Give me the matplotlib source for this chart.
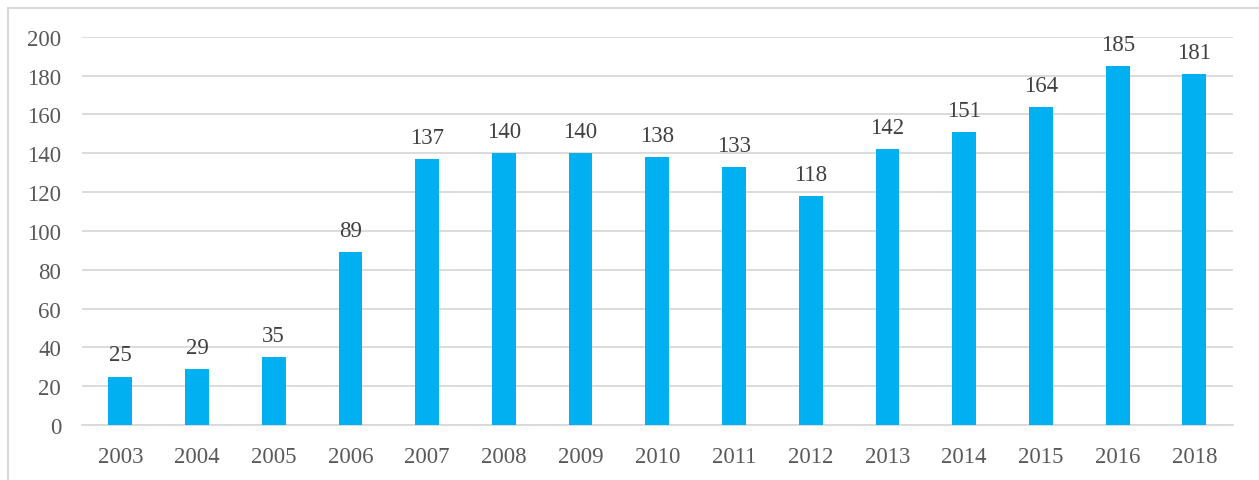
import matplotlib.pyplot as plt
from matplotlib.patches import Rectangle

years = ['2003', '2004', '2005', '2006', '2007', '2008', '2009', '2010',
         '2011', '2012', '2013', '2014', '2015', '2016', '2018']
counts = [25, 29, 35, 89, 137, 140, 140, 138, 133, 118, 142, 151, 164, 185, 181]

plt.rcParams['font.family'] = ['Liberation Serif', 'DejaVu Serif']

fig = plt.figure(figsize=(12.59, 4.81), dpi=100)
ax = fig.add_axes([0.0651, 0.1143, 0.914, 0.807])

# chart frame, cut by the image edges on right and bottom
fig.patches.append(Rectangle((8 / 1259, -0.1), 1.2, 1 - 9 / 481 + 0.1,
                             transform=fig.transFigure, fill=False,
                             edgecolor='#D9D9D9', linewidth=1.5))

x = range(len(years))
bars = ax.bar(x, counts, width=0.31, color='#00B0F0', zorder=3)
ax.bar_label(bars, labels=[str(c) for c in counts], padding=8,
             fontsize=16.5, color='#404040')

ax.set_xlim(-0.5, len(years) - 0.5)
ax.set_ylim(0, 200)
ax.set_yticks(range(0, 201, 20))
ax.set_xticks(list(x))
ax.set_xticklabels(years)
ax.grid(True, axis='y', color='#D9D9D9', linewidth=1.3, zorder=0)
ax.tick_params(axis='both', length=0, labelsize=16.5, labelcolor='#595959')
ax.tick_params(axis='x', pad=15)
ax.tick_params(axis='y', pad=15)
for side in ['top', 'right', 'left']:
    ax.spines[side].set_visible(False)
ax.spines['bottom'].set_color('#D9D9D9')
ax.spines['bottom'].set_linewidth(1.3)

fig.savefig('out.png', dpi=100)
